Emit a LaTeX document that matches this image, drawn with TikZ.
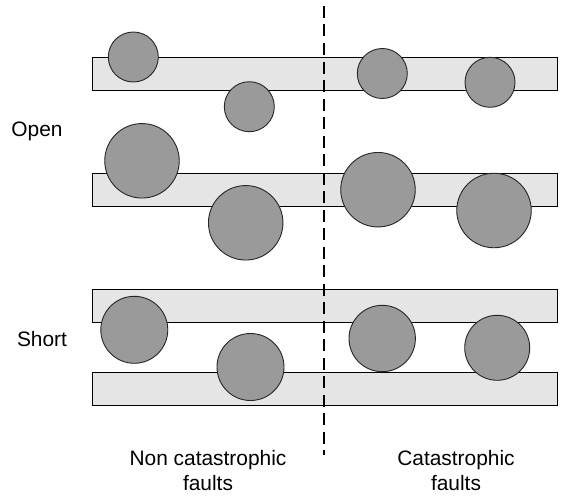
\documentclass[tikz,border=0pt]{standalone}
\usepackage{fontspec}
\setmainfont{Liberation Sans}
\begin{document}
\begin{tikzpicture}[x=1pt,y=-1pt,
  bar/.style={draw=black,line width=1pt,fill=barfill,rectangle,
    minimum width=465pt,minimum height=33pt,inner sep=0pt,outer sep=0pt},
  ball/.style={draw=black!85,line width=0.9pt,fill=ballfill,circle,inner sep=0pt},
  small/.style={ball,minimum size=50pt},
  big/.style={ball,minimum size=74.5pt},
  mid/.style={ball,minimum size=67pt},
  lbl/.style={font=\fontsize{20.9}{25}\selectfont,align=center,inner sep=0pt}]
\definecolor{barfill}{HTML}{E5E5E5}
\definecolor{ballfill}{HTML}{9A9A9A}
\useasboundingbox (0,0) rectangle (561,495);
\fill[white] (0,0) rectangle (561,495);

% conductor strips
\node[bar] (b1) at (324.5,73.5) {};
\node[bar] (b2) at (324.5,189.5) {};
\node[bar] (b3) at (324.5,305.5) {};
\node[bar] (b4) at (324.5,388.5) {};

% open faults, small particles
\node[small] (s1) at (133.3,57) {};
\node[small] (s2) at (249.3,106.7) {};
\node[small] (s3) at (382.3,73.5) {};
\node[small] (s4) at (490,82.3) {};

% open faults, large particles
\node[big] (l1) at (142,160.8) {};
\node[big] (l2) at (245.7,222.8) {};
\node[big] (l3) at (378,189.7) {};
\node[big] (l4) at (494,210.5) {};

% shorts between two strips
\node[mid] (m1) at (134.3,329.8) {};
\node[mid] (m2) at (250.5,367) {};
\node[ball,minimum size=66.4pt] (m3) at (382.2,338.5) {};
\node[ball,minimum size=65pt] (m4) at (497.2,347.8) {};

% divider
\coordinate (dtop) at (324,6);
\coordinate (dbot) at (324,455);
\draw[line width=1.4pt,dash pattern=on 12pt off 6.5pt] (dtop) -- (dbot);

% labels
\node[lbl] (open) at (37,131) {Open};
\node[lbl] (short) at (42,339) {Short};
\node[lbl,anchor=north] (ncf) at (208,450) {Non catastrophic\\faults};
\node[lbl,anchor=north] (cf) at (456,450) {Catastrophic\\faults};
\end{tikzpicture}
\end{document}
